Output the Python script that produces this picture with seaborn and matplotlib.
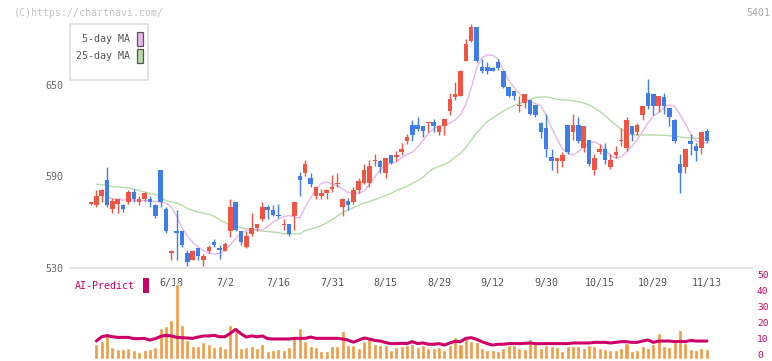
import numpy as np
import matplotlib
matplotlib.use('Agg')
import matplotlib.pyplot as plt
from matplotlib.patches import Rectangle
import seaborn as sns

nan = np.nan

# daily candles, oldest first
opens = [572, 571, 577, 588, 569, 572, 571, 573, 580, 573,
         575, 575, 571, 594, 569, 540, 554, 554, 540, 535,
         543, 535, 541, 547, 543, 541, 554, 573, 554, 544,
         552, 556, 562, 570, 568, 565, 558, 559, 564, 590,
         592, 589, 577, 577, 579, 582, 585, 570, 574, 573,
         581, 586, 586, 600, 600, 592, 604, 603, 606, 613,
         624, 624, 623, 625, 626, 619, 623, 633, 642, 643,
         666, 679, 688, 662, 662, 661, 665, 659, 649, 646,
         636, 638, 640, 637, 625, 622, 603, 600, 600, 624,
         619, 624, 609, 614, 594, 606, 608, 596, 604, 613,
         609, 623, 619, 630, 645, 644, 636, 642, 635, 627,
         598, 596, 613, 610, 609, 620]
highs = [573.5, 581, 582, 596, 576, 576, 572, 581, 582, 577,
         580, 577, 572, 594, 570, 542, 568, 554, 542, 542,
         543, 539, 545, 549, 545, 547, 575, 573, 554, 554,
         566, 559, 573, 571, 571, 572, 562, 559, 573, 593,
         601, 592, 583, 582, 582, 591, 592, 576, 576, 583,
         589, 598, 601, 605, 601, 602, 604, 607, 612, 618,
         627, 629, 623, 626, 628, 623, 628, 645, 652, 660,
         680, 690, 688, 667, 665, 662, 667, 659, 649, 646,
         643, 644, 640, 637, 626, 631, 608, 602, 606, 624,
         631, 629, 623, 614, 605, 611, 612, 605, 610, 622,
         629, 623, 625, 636, 654, 644, 643, 645, 635, 628,
         605, 608, 618, 612, 619, 621]
lows = [571.5, 570, 573, 570, 566, 566, 567, 572, 573, 571,
        573, 570, 563, 570, 553, 535, 535, 544, 531, 535,
        535, 531, 540, 544, 536, 541, 550, 554, 545, 543,
        551, 554, 561, 562, 564, 563, 555, 551, 555, 577,
        590, 583, 575, 575, 575, 580, 583, 564, 568, 572,
        579, 585, 583, 597, 592, 589, 598, 600, 604, 611,
        613, 620, 616, 619, 619, 617, 617, 630, 640, 643,
        666, 678, 665, 658, 657, 659, 660, 648, 642, 640,
        632, 635, 630, 629, 615, 603, 594, 592, 596, 605,
        614, 612, 606, 597, 591, 605, 598, 595, 602, 610,
        607, 613, 617, 627, 634, 630, 632, 631, 623, 612,
        579, 592, 604, 600, 605, 612]
closes = [573, 577, 581, 571, 574, 575, 569, 580, 575, 575,
          579, 573, 564, 573, 554, 541, 553, 545, 534, 541,
          538, 538, 544, 545, 542, 546, 570, 555, 547, 551,
          556, 559, 570, 568, 565, 564, 559, 552, 573, 588,
          598, 585, 583, 579, 581, 583, 586, 575, 571, 581,
          587, 594, 597, 601, 596, 602, 599, 604, 608, 616,
          617, 621, 620, 626, 623, 623, 628, 641, 644, 659,
          677, 688, 666, 659, 659, 659, 661, 649, 643, 643,
          637, 644, 631, 630, 619, 608, 600, 602, 604, 606,
          624, 613, 623, 598, 602, 608, 601, 601, 606, 614,
          627, 618, 624, 636, 636, 636, 643, 636, 629, 613,
          592, 608, 611, 607, 619, 613]

ma5 = [nan, nan, nan, 576.7, 575.2, 574.9, 574.6, 574.6, 574.6, 574.2,
       574.2, 573.9, 573.6, 573.2, 572.6, 570.0, 564.1, 556.2, 551.0, 546.7,
       543.7, 541.4, 539.8, 539.2, 539.5, 541.8, 545.1, 549.3, 552.9, 554.9,
       555.2, 554.9, 554.9, 557.2, 560.1, 562.1, 563.7, 564.4, 563.4, 562.8,
       570.0, 575.9, 581.4, 585.4, 586.6, 585.1, 584.1, 581.8, 579.5, 579.1,
       579.1, 580.5, 585.1, 589.6, 594.2, 597.5, 598.6, 599.5, 602.4, 604.4,
       606.0, 609.3, 613.7, 618.2, 621.4, 623.3, 623.9, 624.8, 627.1, 630.6,
       637.5, 648.0, 661.1, 668.0, 669.8, 669.5, 667.0, 659.8, 653.2, 648.3,
       644.4, 641.8, 639.5, 637.8, 636.4, 630.0, 622.1, 614.9, 608.3, 605.4,
       604.1, 606.2, 609.5, 611.9, 612.8, 611.0, 607.3, 603.9, 602.1, 602.8,
       606.2, 609.6, 614.2, 619.5, 625.0, 629.6, 631.9, 634.9, 636.9, 635.9,
       630.6, 624.4, 617.8, 613.2, 612.1, 612.1]
ma25 = [nan, 584.9, 584.7, 584.1, 583.4, 583.1, 582.9, 582.4, 581.8, 580.8,
        579.8, 578.8, 578.2, 576.2, 574.2, 573.2, 572.6, 571.3, 569.0, 567.7,
        566.7, 566.0, 565.1, 563.9, 561.8, 559.8, 558.2, 557.2, 556.5, 555.7,
        555.1, 554.6, 554.2, 553.9, 553.6, 553.2, 552.3, 552.3, 552.3, 552.3,
        554.6, 555.5, 556.5, 557.8, 559.5, 561.8, 564.1, 566.4, 568.0, 569.6,
        571.0, 572.6, 573.6, 574.9, 576.2, 577.5, 578.8, 580.8, 582.1, 583.4,
        585.5, 587.3, 589.6, 592.9, 595.2, 596.7, 597.8, 599.7, 602.8, 605.1,
        609.0, 613.9, 618.5, 622.4, 626.0, 628.3, 630.6, 632.9, 634.9, 636.5,
        637.8, 639.0, 640.5, 641.9, 642.1, 642.2, 641.4, 640.6, 640.3, 640.1,
        639.5, 639.0, 638.2, 637.0, 634.9, 632.6, 630.0, 626.7, 623.7, 621.1,
        618.4, 617.4, 617.2, 617.2, 617.2, 617.2, 617.2, 617.0, 616.7, 616.4,
        615.9, 615.5, 615.2, 615.1, 615.0, 615.0]

volume = [nan, 9.1, 10.9, 15.9, 7.2, 5.9, 5.9, 6.6, 5.3, 4.1,
          5.3, 5.9, 7.2, 19.3, 20.3, 24.1, 46.6, 20.9, 11.6, 7.8,
          7.8, 10.3, 9.1, 7.2, 7.8, 6.6, 20.9, 17.2, 6.6, 7.2,
          7.8, 6.6, 9.1, 4.7, 5.3, 5.9, 5.3, 7.2, 14.1, 19.1,
          10.9, 7.8, 7.2, 4.7, 4.7, 7.8, 7.8, 17.2, 8.4, 8.4,
          6.6, 10.9, 12.8, 9.1, 8.4, 8.4, 5.3, 7.2, 7.8, 8.4,
          9.1, 7.5, 8.4, 6.6, 6.6, 7.2, 5.3, 8.4, 13.4, 9.1,
          12.8, 10.9, 10.3, 6.6, 5.3, 5.3, 4.7, 6.6, 8.4, 8.4,
          6.6, 5.9, 12.2, 10.3, 6.6, 8.4, 7.8, 7.2, 4.7, 7.8,
          7.8, 7.8, 6.6, 8.4, 7.8, 6.6, 5.9, 5.3, 5.3, 6.6,
          9.7, 4.7, 5.3, 7.8, 6.6, 9.1, 15.9, 7.8, 7.2, 10.3,
          17.8, 9.7, 5.9, 5.3, 6.6, 5.9]
ai_predict = [nan, 10.9, 13.6, 14.3, 13.6, 13.2, 13.2, 13.2, 12.4, 12.4,
              12.6, 11.5, 12.4, 13.8, 14.5, 14.1, 13.2, 13.0, 12.8, 12.6,
              13.4, 14.1, 14.1, 14.5, 13.6, 13.6, 15.7, 18.2, 15.5, 13.4,
              14.1, 13.6, 14.1, 12.4, 12.2, 12.2, 12.2, 12.2, 12.6, 12.6,
              12.6, 13.4, 12.6, 12.6, 12.6, 12.6, 12.6, 12.2, 11.5, 10.2,
              11.5, 12.8, 12.2, 11.3, 10.9, 10.0, 9.3, 9.3, 9.5, 9.3,
              10.5, 9.3, 9.7, 8.9, 8.9, 9.3, 8.4, 9.7, 10.7, 10.5,
              12.6, 13.0, 12.0, 10.5, 9.3, 8.4, 8.9, 8.9, 9.3, 9.3,
              9.3, 9.5, 9.7, 9.3, 9.3, 9.3, 9.3, 9.3, 9.3, 9.3,
              9.7, 9.7, 9.7, 9.7, 10.1, 10.1, 10.1, 9.7, 10.1, 10.5,
              10.5, 10.1, 10.1, 10.9, 11.6, 10.1, 10.9, 10.9, 10.9, 10.5,
              10.7, 10.5, 11.3, 10.9, 10.9, 10.9]

date_pos = [15, 25, 35, 45, 55, 65, 75, 85, 95, 105, 115]
date_labels = ['6/18', '7/2', '7/16', '7/31', '8/15', '8/29',
               '9/12', '9/30', '10/15', '10/29', '11/13']
price_ticks = [530, 590, 650]
volume_ticks = [0, 10, 20, 30, 40, 50]
legend_labels = ['5-day MA', '25-day MA']

UP = '#f25444'
DOWN = '#3f7eea'
MA5_COLOR = '#e8b6ee'
MA25_COLOR = '#b6dba8'
VOL_COLOR = '#f29a42'
AI_COLOR = '#cc0066'
MONO = ['DejaVu Sans Mono']
W, H = 772, 361


def px_box(x, y, w, h):
    """figure-fraction rect from pixel box (top-left origin)"""
    return (x / W, 1 - (y + h) / H), w / W, h / H


def main():
    sns.set_theme(style='white')
    plt.rcParams['font.family'] = MONO
    plt.rcParams['font.size'] = 7.2

    o = np.array(opens, float)
    c = np.array(closes, float)
    idx = np.arange(len(o))
    xlim = ((70 - 91) / 5.355, (752 - 91) / 5.355)

    fig = plt.figure(figsize=(W / 100, H / 100), dpi=100)
    ax = fig.add_axes([70 / W, 1 - 268 / H, 682 / W, 258 / H])
    ax.patch.set_visible(False)

    sns.lineplot(x=idx, y=ma25, ax=ax, color=MA25_COLOR, lw=1, errorbar=None, zorder=1)
    sns.lineplot(x=idx, y=ma5, ax=ax, color=MA5_COLOR, lw=1, errorbar=None, zorder=1)

    up = c >= o
    colors = np.where(up, UP, DOWN)
    ax.vlines(idx, lows, highs, colors=colors, lw=1, zorder=2)
    body = np.maximum(np.abs(c - o), 0.9)
    ax.bar(idx, body, bottom=np.minimum(o, c), width=0.85, color=colors, lw=0, zorder=3)

    ax.set_xlim(*xlim)
    ax.set_ylim(530, 530 + 258 * 0.6557)
    ax.set_yticks(price_ticks)
    ax.set_xticks(date_pos)
    ax.set_xticklabels(date_labels)
    ax.set_xticks(np.linspace(xlim[0], xlim[1], 12)[1:], minor=True)
    ax.tick_params(axis='y', length=0, pad=5, labelcolor='#666666', labelsize=7.2)
    ax.tick_params(axis='x', which='major', length=0, pad=7, labelcolor='#555555', labelsize=7.2)
    ax.tick_params(axis='x', which='minor', length=5, width=1, direction='inout', color='#dddddd')
    for side in ['top', 'right', 'left']:
        ax.spines[side].set_visible(False)
    ax.spines['bottom'].set_color('#e0e0e0')
    ax.spines['bottom'].set_linewidth(1.2)
    ax.set_xlabel('')
    ax.set_ylabel('')

    # legend box, drawn by hand so the swatches sit right of the text
    xy, w, h = px_box(70, 24, 78, 56)
    fig.add_artist(Rectangle(xy, w, h, transform=fig.transFigure, facecolor='white',
                             edgecolor='#dddddd', lw=1.2, zorder=5))
    for k, (lab, col) in enumerate(zip(legend_labels, [MA5_COLOR, MA25_COLOR])):
        top = 31.5 + k * 17
        xy, w, h = px_box(137, top, 5.5, 14.5)
        fig.add_artist(Rectangle(xy, w, h, transform=fig.transFigure, facecolor=col,
                                 edgecolor='#555555', lw=0.9, zorder=6))
        fig.text(130.5 / W, 1 - (top + 7.5) / H, lab, color='#555555', fontsize=7.2,
                 ha='right', va='center', zorder=6)

    # volume panel
    axv = fig.add_axes([70 / W, 1 - 358.5 / H, 682 / W, 88.5 / H])
    axv.patch.set_visible(False)
    sns.barplot(x=idx, y=volume, ax=axv, native_scale=True, width=0.75,
                color=VOL_COLOR, saturation=1, errorbar=None, zorder=1)
    sns.lineplot(x=idx, y=ai_predict, ax=axv, color=AI_COLOR, lw=2.2, errorbar=None, zorder=2)
    axv.set_xlim(*xlim)
    axv.set_ylim(0, 88.5 / 1.6)
    axv.set_xticks([])
    axv.set_yticks([])
    for v in volume_ticks:
        axv.annotate(str(v), xy=(1, v), xycoords=('axes fraction', 'data'),
                     xytext=(5, 2.5), textcoords='offset pixels', color=AI_COLOR,
                     fontsize=6.8, ha='left', va='center')
    for s in axv.spines.values():
        s.set_visible(False)
    axv.set_xlabel('')
    axv.set_ylabel('')

    fig.text(75 / W, 1 - 286 / H, 'AI-Predict', color=AI_COLOR, fontsize=7.2,
             ha='left', va='center')
    xy, w, h = px_box(142.5, 277.5, 6.5, 15)
    fig.add_artist(Rectangle(xy, w, h, transform=fig.transFigure, facecolor=AI_COLOR, lw=0))
    fig.text(14 / W, 1 - 12.5 / H, '(C)https://chartnavi.com/', color='#c4c4c4',
             fontsize=7.2, ha='left', va='center')
    fig.text(770 / W, 1 - 12.5 / H, '5401', color='#aaaaaa', fontsize=7.2,
             ha='right', va='center')

    fig.savefig('out.png', dpi=100, facecolor='white')


if __name__ == '__main__':
    main()
